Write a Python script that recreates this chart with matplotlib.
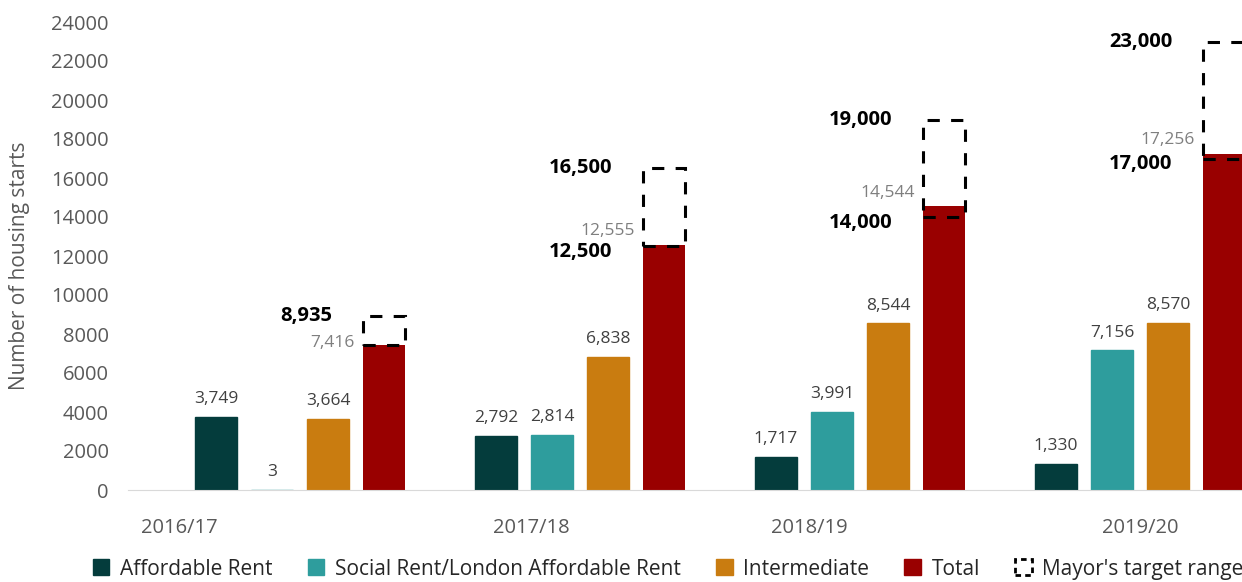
import matplotlib
matplotlib.use('Agg')
import matplotlib.pyplot as plt
from matplotlib.patches import Patch, Rectangle
import numpy as np

plt.rcParams['font.family'] = ['Open Sans', 'DejaVu Sans']

years = ['2016/17', '2017/18', '2018/19', '2019/20']
affordable_rent = [3749, 2792, 1717, 1330]
social_rent = [3, 2814, 3991, 7156]
intermediate = [3664, 6838, 8544, 8570]
total = [7416, 12555, 14544, 17256]
target_low = [None, 12500, 14000, 17000]
target_high = [8935, 16500, 19000, 23000]

series_names = ['Affordable Rent', 'Social Rent/London Affordable Rent', 'Intermediate', 'Total']
colors = ['#043c3c', '#2e9d9d', '#c97c10', '#990000']

fig = plt.figure(figsize=(12.42, 5.82), dpi=100)
ax = fig.add_axes([128 / 1242, 92 / 582, 1114 / 1242, 468 / 582])

x = np.arange(len(years))
w = 0.15
offsets = [-0.3, -0.1, 0.1, 0.3]
series = [affordable_rent, social_rent, intermediate, total]

for vals, off, c in zip(series[:3], offsets[:3], colors[:3]):
    ax.bar(x + off, vals, w, color=c, edgecolor=c, linewidth=1)
    for xi, v in zip(x + off, vals):
        ax.annotate(f'{v:,}', (xi, v), xytext=(0, 7), textcoords='offset points',
                    ha='center', va='bottom', fontsize=12.5, color='#404040')

ax.bar(x + offsets[3], total, w, color=colors[3])

# target range boxes and labels
for xi, t, lo, hi in zip(x + offsets[3], total, target_low, target_high):
    bottom = lo if lo is not None else t
    ax.add_patch(Rectangle((xi - w / 2, bottom), w, hi - bottom, fill=False,
                           edgecolor='black', linewidth=2.2, linestyle=(0, (4, 3.7)),
                           zorder=3))
    lx = xi - w / 2 - 0.11
    ax.annotate(f'{hi:,}', (lx, hi), ha='right', va='center', fontsize=14.5,
                fontweight='bold', color='black')
    if lo is not None:
        ax.annotate(f'{lo:,}', (lx, lo), xytext=(0, -4), textcoords='offset points',
                    ha='right', va='center', fontsize=14.5, fontweight='bold', color='black')
        shift = 10
    else:
        shift = 2
    ax.annotate(f'{t:,}', (xi - w / 2 - 0.03, t), xytext=(0, shift), textcoords='offset points',
                ha='right', va='center', fontsize=12.5, color='#7f7f7f')

ax.set_xlim(-0.614, 3.364)
ax.set_ylim(0, 24000)
ax.set_yticks(range(0, 24001, 2000))
ax.set_xticks([-0.43, 0.825, 1.82, 3.0])
ax.set_xticklabels(years)
ax.tick_params(axis='y', length=0, pad=14, labelsize=14.5, labelcolor='#595959')
ax.tick_params(axis='x', length=0, pad=20, labelsize=14.5, labelcolor='#595959')

ax.spines[['right', 'left', 'top']].set_visible(False)
ax.spines['bottom'].set_color('#d9d9d9')

ax.set_ylabel('Number of housing starts', fontsize=15, color='#595959')
ax.yaxis.set_label_coords(-0.088, 0.48)

handles = [Patch(facecolor=c, edgecolor=c) for c in colors]
handles.append(Patch(facecolor='none', edgecolor='black', linewidth=2, linestyle=(0, (2, 1.5))))
labels = series_names + ["Mayor's target range"]
fig.legend(handles, labels, loc='center', bbox_to_anchor=(0.538, 0.022), ncol=5,
           frameon=False, fontsize=15, handlelength=0.8, handleheight=0.8,
           handletextpad=0.5, columnspacing=1.7, labelcolor='#262626')

fig.savefig('out.png', dpi=100)
